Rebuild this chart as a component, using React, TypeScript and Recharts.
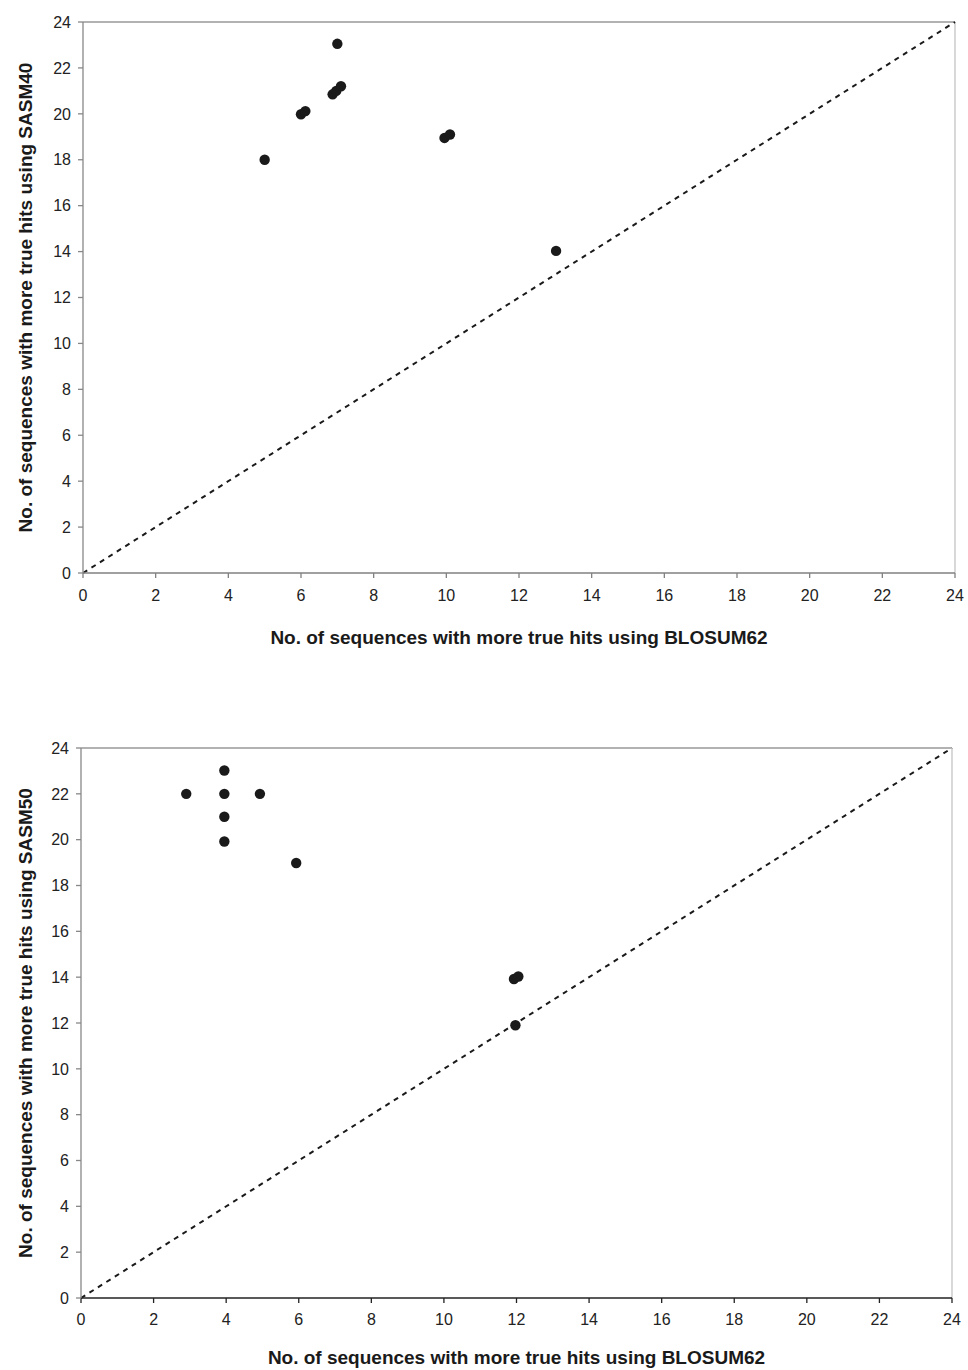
import {
  ScatterChart,
  Scatter,
  XAxis,
  YAxis,
  ReferenceLine,
  Label,
} from "recharts";

// ─── Data ───────────────────────────────────────────────
const axisTicks = [0, 2, 4, 6, 8, 10, 12, 14, 16, 18, 20, 22, 24];
const diagonalEnds = [0, 24];

const xLabel = "No. of sequences with more true hits using BLOSUM62";
const topYLabel = "No. of sequences with more true hits using SASM40";
const bottomYLabel = "No. of sequences with more true hits using SASM50";

// SASM40 vs BLOSUM62
const topBlosum = [5, 6, 6.12, 6.87, 6.97, 7.1, 7.0, 9.95, 10.1, 13.02];
const topSasm = [18, 19.98, 20.12, 20.85, 21.0, 21.2, 23.05, 18.95, 19.1, 14.03];

// SASM50 vs BLOSUM62
const bottomBlosum = [2.9, 3.95, 3.95, 3.95, 3.95, 4.93, 5.93, 11.93, 12.05, 11.97];
const bottomSasm = [22, 23.02, 22, 21, 19.92, 22, 18.98, 13.92, 14.03, 11.9];

const FONT = "'Liberation Sans', Arial, Helvetica, sans-serif";

function toPoints(xs: number[], ys: number[]) {
  return xs.map((x, i) => ({ x, y: ys[i] }));
}

// ─── Axis titles ────────────────────────────────────────
function XTitle({ viewBox, value, dy }: any) {
  const vb = viewBox || { x: 0, y: 0, width: 0 };
  return (
    <text
      x={vb.x + vb.width / 2}
      y={vb.y + dy}
      textAnchor="middle"
      fontFamily={FONT}
      fontWeight="bold"
      fontSize={19}
      fill="#1a1a1a"
    >
      {value}
    </text>
  );
}

function YTitle({ viewBox, value }: any) {
  const vb = viewBox || { x: 0, y: 0, height: 0 };
  const cx = 32;
  const cy = vb.y + vb.height / 2;
  return (
    <text
      x={cx}
      y={cy}
      transform={`rotate(-90 ${cx} ${cy})`}
      textAnchor="middle"
      fontFamily={FONT}
      fontWeight="bold"
      fontSize={19}
      fill="#1a1a1a"
    >
      {value}
    </text>
  );
}

const Dot = (props: any) => (
  <circle cx={props.cx} cy={props.cy} r={5.2} fill="#1a1a1a" />
);

// ─── Panel ──────────────────────────────────────────────
interface PanelProps {
  height: number;
  top: number;
  right: number;
  yAxisWidth: number;
  xAxisHeight: number;
  xTickMargin: number;
  xTitleDy: number;
  xAxisColor: string;
  yTitle: string;
  points: { x: number; y: number }[];
}

function Panel({
  height,
  top,
  right,
  yAxisWidth,
  xAxisHeight,
  xTickMargin,
  xTitleDy,
  xAxisColor,
  yTitle,
  points,
}: PanelProps) {
  const tick = { fontSize: 16, fill: "#222", fontFamily: FONT };
  return (
    <ScatterChart
      width={968}
      height={height}
      margin={{ top, right, left: 0, bottom: 0 }}
      style={{ fontFamily: FONT }}
    >
      <XAxis
        type="number"
        dataKey="x"
        domain={[0, 24]}
        ticks={axisTicks}
        interval={0}
        tick={tick}
        tickSize={5}
        tickMargin={xTickMargin}
        height={xAxisHeight}
        axisLine={{ stroke: xAxisColor, strokeWidth: 1.3 }}
        tickLine={{ stroke: xAxisColor, strokeWidth: 1.3 }}
      >
        <Label content={<XTitle value={xLabel} dy={xTitleDy} />} />
      </XAxis>
      <YAxis
        type="number"
        dataKey="y"
        domain={[0, 24]}
        ticks={axisTicks}
        interval={0}
        tick={tick}
        tickSize={5}
        tickMargin={7}
        width={yAxisWidth}
        axisLine={{ stroke: "#888", strokeWidth: 1.3 }}
        tickLine={{ stroke: "#888", strokeWidth: 1.3 }}
      >
        <Label content={<YTitle value={yTitle} />} />
      </YAxis>

      {/* plot frame */}
      <ReferenceLine y={24} stroke="#999" strokeWidth={1.3} />
      <ReferenceLine x={24} stroke="#c4c4c4" strokeWidth={1.3} />

      {/* y = x */}
      <ReferenceLine
        segment={[
          { x: diagonalEnds[0], y: diagonalEnds[0] },
          { x: diagonalEnds[1], y: diagonalEnds[1] },
        ]}
        stroke="#1a1a1a"
        strokeWidth={2}
        strokeDasharray="5 5"
      />

      <Scatter data={points} shape={<Dot />} isAnimationActive={false} />
    </ScatterChart>
  );
}

export default function App() {
  return (
    <div
      style={{
        position: "absolute",
        left: 0,
        top: 0,
        width: 968,
        height: 1370,
        background: "#fff",
        fontFamily: FONT,
      }}
    >
      <div style={{ position: "absolute", left: 0, top: 0 }}>
        <Panel
          height={725}
          top={22}
          right={13}
          yAxisWidth={83}
          xAxisHeight={152}
          xTickMargin={12}
          xTitleDy={71}
          xAxisColor="#808080"
          yTitle={topYLabel}
          points={toPoints(topBlosum, topSasm)}
        />
      </div>
      <div style={{ position: "absolute", left: 0, top: 725 }}>
        <Panel
          height={645}
          top={23}
          right={16}
          yAxisWidth={81}
          xAxisHeight={72}
          xTickMargin={11}
          xTitleDy={66}
          xAxisColor="#222"
          yTitle={bottomYLabel}
          points={toPoints(bottomBlosum, bottomSasm)}
        />
      </div>
    </div>
  );
}
